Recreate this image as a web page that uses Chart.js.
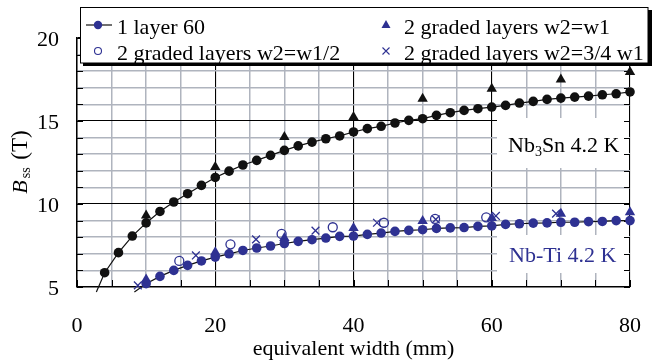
<!DOCTYPE html>
<html>
<head>
<meta charset="utf-8">
<script src="https://cdn.jsdelivr.net/npm/chart.js@4.4.1/dist/chart.umd.min.js"></script>
<style>
  html, body { margin: 0; padding: 0; background: #fff; }
  #chart { display: block; }
</style>
</head>
<body>
<canvas id="chart" width="654" height="362"></canvas>
<script>
// single layer, Nb3Sn 4.2 K
const nb3snWidth = [4, 6, 8, 10, 12, 14, 16, 18, 20, 22, 24, 26, 28, 30, 32, 34, 36, 38, 40, 42,
                    44, 46, 48, 50, 52, 54, 56, 58, 60, 62, 64, 66, 68, 70, 72, 74, 76, 78, 80];
const nb3snField = [5.86, 7.07, 8.07, 8.86, 9.55, 10.12, 10.62, 11.12, 11.6, 11.98, 12.35, 12.63, 12.93, 13.23,
                    13.5, 13.73, 13.93, 14.1, 14.34, 14.54, 14.68, 14.88, 15.04, 15.14, 15.34, 15.5, 15.64,
                    15.74, 15.84, 15.94, 16.08, 16.18, 16.3, 16.38, 16.44, 16.5, 16.58, 16.64, 16.75];

// single layer, Nb-Ti 4.2 K
const nbtiWidth = [10, 12, 14, 16, 18, 20, 22, 24, 26, 28, 30, 32, 34, 36, 38, 40, 42, 44,
                   46, 48, 50, 52, 54, 56, 58, 60, 62, 64, 66, 68, 70, 72, 74, 76, 78, 80];
const nbtiField = [5.2, 5.64, 6.0, 6.3, 6.57, 6.8, 7.0, 7.2, 7.35, 7.47, 7.62, 7.75, 7.85, 7.95, 8.05, 8.07, 8.17, 8.25,
                   8.35, 8.41, 8.45, 8.53, 8.56, 8.58, 8.65, 8.68, 8.77, 8.81, 8.85, 8.86, 8.9, 8.9, 8.94, 8.95, 9.0, 9.0];

// fit curves run a little below the axis on the low side
const curveStartWidth = [2.8, 8.3];
const curveStartField = [4.7, 4.7];

// two graded layers, w2 = w1
const gradedEqWidth = [10, 20, 30, 40, 50, 60, 70, 80];
const gradedEqNb3sn = [9.3, 12.23, 14.04, 15.24, 16.34, 16.95, 17.5, 17.95];
const gradedEqNbti = [5.45, 7.1, 7.95, 8.55, 8.97, 9.15, 9.42, 9.5];

// two graded layers, w2 = w1/2 (Nb-Ti)
const gradedHalfWidth = [14.8, 22.2, 29.6, 37, 44.4, 51.8, 59.2];
const gradedHalfField = [6.57, 7.57, 8.2, 8.6, 8.87, 9.1, 9.2];

// two graded layers, w2 = 3/4 w1 (Nb-Ti)
const gradedQuarterWidth = [8.8, 17.2, 25.9, 34.5, 43.4, 51.9, 60.6, 69.3];
const gradedQuarterField = [5.1, 6.9, 7.87, 8.4, 8.87, 9.07, 9.28, 9.42];

const legendLabels = ['1 layer 60', '2 graded layers w2=w1/2', '2 graded layers w2=w1', '2 graded layers w2=3/4 w1'];

const BLUE = '#2e3192';
const GRID_GRAY = '#afb4be';
const SERIF = '"Liberation Serif", "Times New Roman", serif';

function points(xs, ys) {
    return xs.map((x, i) => ({ x: x, y: ys[i] }));
}

function markers(label, xs, ys, style, color, radius, filled) {
    return {
        label: label,
        data: points(xs, ys),
        showLine: false,
        pointStyle: style,
        pointRadius: radius,
        pointHoverRadius: radius,
        pointBorderWidth: filled ? 0 : 1.3,
        pointBackgroundColor: filled ? color : 'rgba(0,0,0,0)',
        pointBorderColor: color,
        clip: false
    };
}

function curve(start, xs, ys) {
    return {
        label: 'fit',
        data: [{ x: curveStartWidth[start], y: curveStartField[start] }].concat(points(xs, ys)),
        showLine: true,
        pointRadius: 0,
        borderColor: '#111',
        borderWidth: 1.2,
        clip: false
    };
}

// white boxes behind the material labels, drawn over the grid
const labelBoxes = {
    id: 'labelBoxes',
    beforeDatasetsDraw(chart) {
        const ctx = chart.ctx;
        const a = chart.chartArea;
        ctx.save();
        ctx.fillStyle = '#fff';
        ctx.fillRect(497, 118, a.right - 1 - 497, 50);
        ctx.fillRect(497, 235, a.right - 1 - 497, 38);

        // short inward ticks on the frame
        ctx.strokeStyle = '#000';
        ctx.lineWidth = 1;
        const ys = chart.scales.y;
        for (let v = 5; v <= 20; v++) {
            const py = Math.round(ys.getPixelForValue(v)) + 0.5;
            ctx.beginPath();
            ctx.moveTo(a.left, py); ctx.lineTo(a.left + 6, py);
            ctx.moveTo(a.right, py); ctx.lineTo(a.right - 6, py);
            ctx.stroke();
        }
        const xs = chart.scales.x;
        for (let v = 0; v <= 80; v += 5) {
            const px = Math.round(xs.getPixelForValue(v)) + 0.5;
            ctx.beginPath();
            ctx.moveTo(px, a.bottom); ctx.lineTo(px, a.bottom - 7);
            ctx.stroke();
        }

        // material labels
        ctx.textBaseline = 'alphabetic';
        ctx.textAlign = 'left';
        let x = 508;
        ctx.fillStyle = '#000';
        ctx.font = '22px ' + SERIF;
        ctx.fillText('Nb', x, 152);
        x += ctx.measureText('Nb').width;
        ctx.font = '14px ' + SERIF;
        ctx.fillText('3', x, 156);
        x += ctx.measureText('3').width;
        ctx.font = '22px ' + SERIF;
        ctx.fillText('Sn 4.2 K', x, 152);

        ctx.fillStyle = BLUE;
        ctx.fillText('Nb-Ti 4.2 K', 509, 262);
        ctx.restore();
    }
};

// y axis title with italic B and subscript, plus the boxed legend
const overlay = {
    id: 'overlay',
    afterDraw(chart) {
        const ctx = chart.ctx;
        ctx.save();
        ctx.translate(20, 162);
        ctx.rotate(-Math.PI / 2);
        ctx.fillStyle = '#000';
        ctx.textBaseline = 'alphabetic';
        ctx.font = 'italic 22px ' + SERIF;
        const wB = ctx.measureText('B').width;
        ctx.font = '14px ' + SERIF;
        const wS = ctx.measureText('ss').width;
        ctx.font = '23px ' + SERIF;
        const wT = ctx.measureText(' (T)').width;
        let x = -(wB + wS + wT + 4) / 2;
        ctx.font = 'italic 22px ' + SERIF;
        ctx.fillText('B', x, 7);
        x += wB + 2;
        ctx.font = '14px ' + SERIF;
        ctx.fillText('ss', x, 10);
        x += wS + 2;
        ctx.font = '23px ' + SERIF;
        ctx.fillText(' (T)', x, 7);
        ctx.restore();

        // legend frame with drop shadow
        ctx.save();
        ctx.fillStyle = '#000';
        ctx.fillRect(83, 62, 569, 4);
        ctx.fillRect(648, 10, 4, 56);
        ctx.fillStyle = '#fff';
        ctx.fillRect(80.5, 7.5, 567.5, 55.5);
        ctx.strokeStyle = '#000';
        ctx.lineWidth = 1;
        ctx.strokeRect(80.5, 7.5, 567.5, 55.5);

        // entry markers
        ctx.strokeStyle = '#222';
        ctx.lineWidth = 1.3;
        ctx.beginPath();
        ctx.moveTo(86, 25); ctx.lineTo(112, 25);
        ctx.stroke();
        ctx.fillStyle = BLUE;
        ctx.beginPath();
        ctx.arc(98, 25, 4.2, 0, Math.PI * 2);
        ctx.fill();

        ctx.strokeStyle = BLUE;
        ctx.lineWidth = 1.1;
        ctx.beginPath();
        ctx.arc(98, 51, 3.5, 0, Math.PI * 2);
        ctx.stroke();

        ctx.beginPath();
        ctx.moveTo(386, 20); ctx.lineTo(390.5, 28); ctx.lineTo(381.5, 28);
        ctx.closePath();
        ctx.fill();

        ctx.beginPath();
        ctx.moveTo(382.5, 47.5); ctx.lineTo(389.5, 54.5);
        ctx.moveTo(389.5, 47.5); ctx.lineTo(382.5, 54.5);
        ctx.stroke();

        ctx.fillStyle = '#000';
        ctx.font = '22px ' + SERIF;
        ctx.textBaseline = 'alphabetic';
        ctx.fillText(legendLabels[0], 117, 34);
        ctx.fillText(legendLabels[1], 117, 59.5);
        ctx.fillText(legendLabels[2], 404, 34);
        ctx.fillText(legendLabels[3], 404, 59.5);
        ctx.restore();
    }
};

const tickFont = { family: SERIF, size: 22 };

new Chart(document.getElementById('chart').getContext('2d'), {
    type: 'scatter',
    data: {
        datasets: [
            markers(legendLabels[0], nb3snWidth, nb3snField, 'circle', '#111', 4.8, true),
            markers(legendLabels[0], nbtiWidth, nbtiField, 'circle', BLUE, 4.8, true),
            markers(legendLabels[2], gradedEqWidth, gradedEqNb3sn, 'triangle', '#111', 6, true),
            markers(legendLabels[2], gradedEqWidth, gradedEqNbti, 'triangle', BLUE, 6, true),
            markers(legendLabels[1], gradedHalfWidth, gradedHalfField, 'circle', BLUE, 4.5, false),
            markers(legendLabels[3], gradedQuarterWidth, gradedQuarterField, 'crossRot', BLUE, 5.5, false),
            curve(0, nb3snWidth, nb3snField),
            curve(1, nbtiWidth, nbtiField)
        ]
    },
    options: {
        responsive: false,
        devicePixelRatio: 1,
        animation: false,
        layout: { padding: { top: 38, right: 24, left: 0, bottom: 0 } },
        plugins: {
            legend: { display: false },
            tooltip: { enabled: false }
        },
        scales: {
            x: {
                type: 'linear',
                min: 0,
                max: 80,
                afterFit: s => { s.height = 75; s.paddingLeft = 0; s.paddingRight = 0; },
                border: { color: '#000', width: 1.5 },
                grid: {
                    drawTicks: false,
                    color: c => c.tick.value % 20 === 0 ? '#000' : GRID_GRAY,
                    lineWidth: c => c.tick.value % 20 === 0 ? 1.1 : 1.5
                },
                ticks: {
                    stepSize: 5,
                    autoSkip: false,
                    maxRotation: 0,
                    padding: 26,
                    color: '#000',
                    font: tickFont,
                    callback: v => v % 20 === 0 ? v : ''
                },
                title: {
                    display: true,
                    text: 'equivalent width (mm)',
                    color: '#000',
                    font: tickFont,
                    padding: 0
                }
            },
            y: {
                type: 'linear',
                min: 5,
                max: 20,
                afterFit: s => { s.width = 77; s.paddingTop = 0; s.paddingBottom = 0; },
                border: { color: '#000', width: 1.5 },
                grid: {
                    drawTicks: false,
                    color: c => c.tick.value % 5 === 0 ? '#000' : GRID_GRAY,
                    lineWidth: c => c.tick.value % 5 === 0 ? 1.1 : 1.5
                },
                ticks: {
                    stepSize: 1,
                    autoSkip: false,
                    padding: 18,
                    labelOffset: 2,
                    color: '#000',
                    font: tickFont,
                    callback: v => v % 5 === 0 ? v : ''
                }
            }
        }
    },
    plugins: [labelBoxes, overlay]
});
</script>
</body>
</html>
